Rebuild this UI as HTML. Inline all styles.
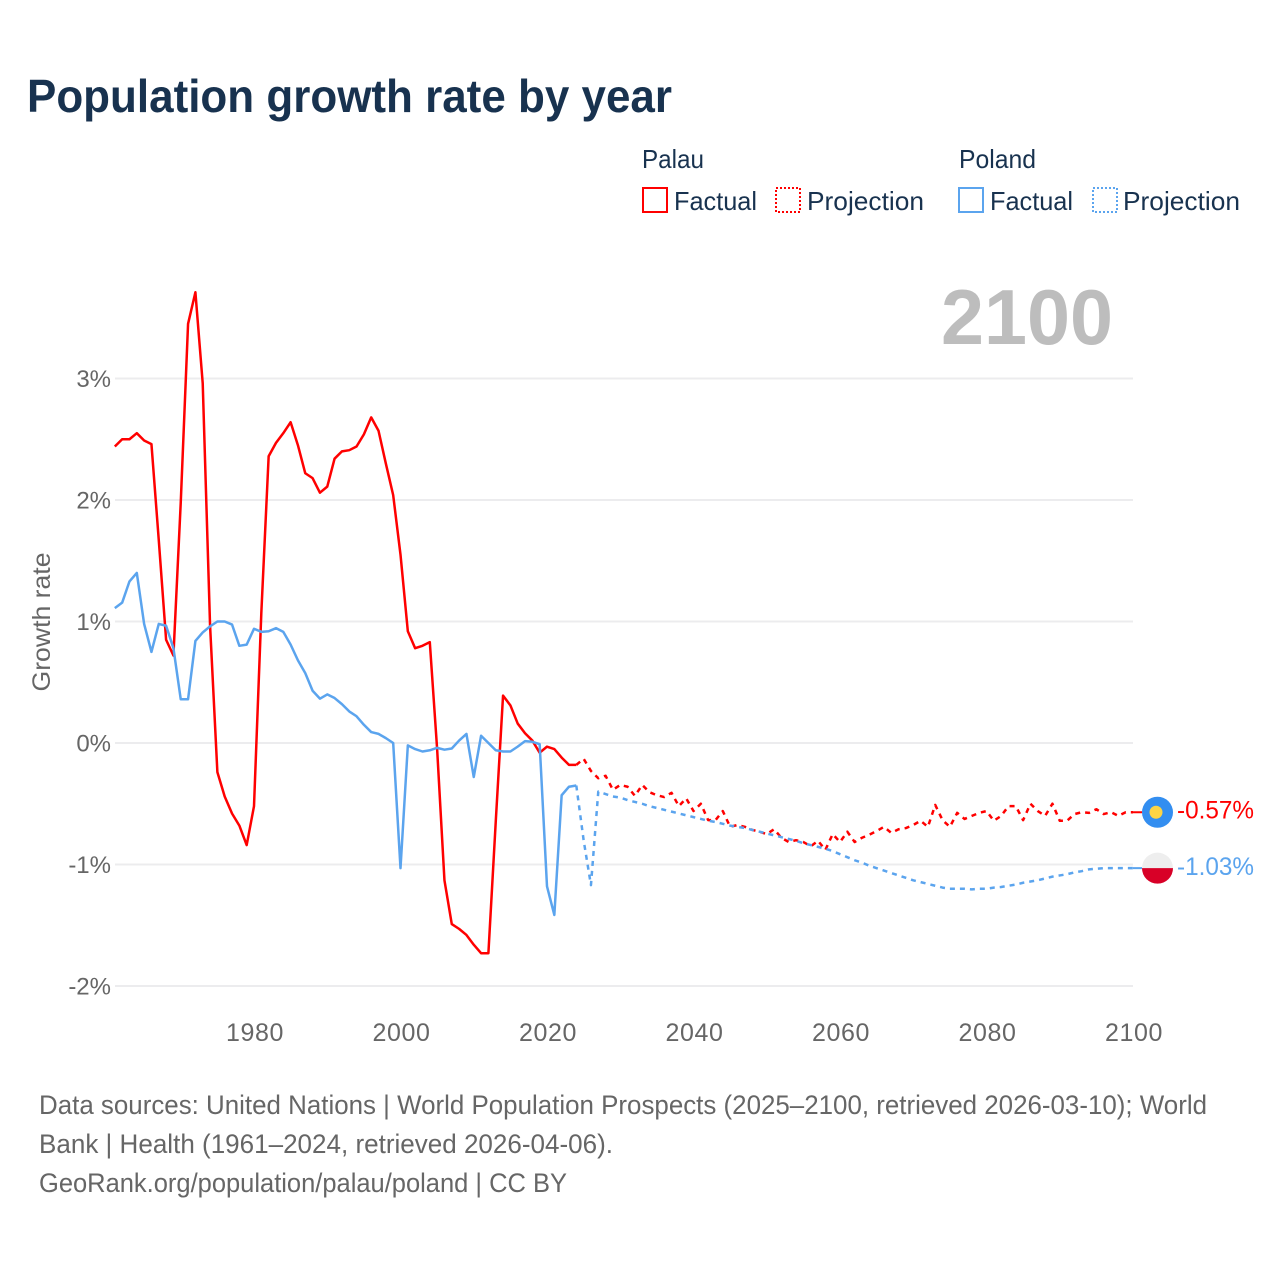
<!DOCTYPE html>
<html lang="en">
<head>
<meta charset="utf-8">
<title>Population growth rate by year</title>
<style>
html,body{margin:0;padding:0;background:#fff;width:1280px;height:1280px;overflow:hidden}
svg{display:block;font-family:"Liberation Sans",sans-serif}
</style>
</head>
<body>
<svg id="chart" xmlns="http://www.w3.org/2000/svg" width="1280" height="1280" viewBox="0 0 1280 1280">
  <text x="27" y="112" font-size="46" font-weight="700" fill="#18324f" textLength="645" lengthAdjust="spacingAndGlyphs">Population growth rate by year</text>

  <g font-size="26" fill="#18324f">
    <text x="642" y="168" textLength="62" lengthAdjust="spacingAndGlyphs">Palau</text>
    <text x="959" y="168" textLength="77" lengthAdjust="spacingAndGlyphs">Poland</text>
    <g>
      <rect x="643" y="188" width="24" height="24" fill="none" stroke="#ff0000" stroke-width="2"/>
      <text x="674" y="210" textLength="83" lengthAdjust="spacingAndGlyphs">Factual</text>
    </g>
    <g>
      <rect x="776" y="188" width="24" height="24" fill="none" stroke="#ff0000" stroke-width="2" stroke-dasharray="2 2"/>
      <text x="807" y="210" textLength="117" lengthAdjust="spacingAndGlyphs">Projection</text>
    </g>
    <g>
      <rect x="959" y="188" width="24" height="24" fill="none" stroke="#5ba4ee" stroke-width="2"/>
      <text x="990" y="210" textLength="83" lengthAdjust="spacingAndGlyphs">Factual</text>
    </g>
    <g>
      <rect x="1093" y="188" width="24" height="24" fill="none" stroke="#5ba4ee" stroke-width="2" stroke-dasharray="2 2"/>
      <text x="1123" y="210" textLength="117" lengthAdjust="spacingAndGlyphs">Projection</text>
    </g>
  </g>

  <text x="941" y="344" font-size="78" font-weight="700" fill="#bdbdbd" textLength="172" lengthAdjust="spacingAndGlyphs">2100</text>

  <g id="grid"></g>
  <g id="y-ticks" font-size="24" fill="#666" text-anchor="end"></g>
  <g id="x-ticks" font-size="25" fill="#666" text-anchor="middle" letter-spacing="0.6"></g>
  <text transform="translate(50 622) rotate(-90)" font-size="25" fill="#666" text-anchor="middle" textLength="139" lengthAdjust="spacingAndGlyphs">Growth rate</text>

  <g id="series"></g>
  <g id="markers"></g>

  <g font-size="27" fill="#666">
    <text x="39" y="1114" textLength="1168" lengthAdjust="spacingAndGlyphs">Data sources: United Nations | World Population Prospects (2025–2100, retrieved 2026-03-10); World</text>
    <text x="39" y="1153" textLength="574" lengthAdjust="spacingAndGlyphs">Bank | Health (1961–2024, retrieved 2026-04-06).</text>
    <text x="39" y="1192" textLength="528" lengthAdjust="spacingAndGlyphs">GeoRank.org/population/palau/poland | CC BY</text>
  </g>
</svg>
<script>
const factualStartYear = 1961;
const projectionStartYear = 2024;
const xTickYears = [1980, 2000, 2020, 2040, 2060, 2080, 2100];
const yTickValues = [3, 2, 1, 0, -1, -2];
const yTickLabels = ['3%', '2%', '1%', '0%', '-1%', '-2%'];

const palauFactual = [2.44,2.50,2.50,2.55,2.49,2.46,1.67,0.85,0.72,1.98,3.45,3.71,2.96,0.97,-0.24,-0.44,-0.58,-0.68,-0.84,-0.52,1.07,2.36,2.47,2.55,2.64,2.45,2.22,2.18,2.06,2.11,2.34,2.40,2.41,2.44,2.54,2.68,2.57,2.30,2.04,1.55,0.92,0.78,0.80,0.83,-0.05,-1.13,-1.49,-1.53,-1.58,-1.66,-1.73,-1.73,-0.65,0.39,0.31,0.16,0.08,0.02,-0.08,-0.03,-0.05,-0.12,-0.18,-0.18];
const palauProjection = [-0.18,-0.13,-0.23,-0.29,-0.27,-0.385,-0.345,-0.36,-0.435,-0.345,-0.405,-0.43,-0.445,-0.41,-0.52,-0.455,-0.56,-0.50,-0.635,-0.635,-0.56,-0.69,-0.675,-0.69,-0.715,-0.73,-0.75,-0.71,-0.78,-0.815,-0.80,-0.815,-0.85,-0.805,-0.88,-0.75,-0.815,-0.73,-0.815,-0.78,-0.755,-0.725,-0.69,-0.74,-0.71,-0.70,-0.675,-0.64,-0.69,-0.51,-0.635,-0.69,-0.575,-0.625,-0.60,-0.575,-0.56,-0.64,-0.60,-0.52,-0.52,-0.635,-0.50,-0.56,-0.60,-0.50,-0.64,-0.64,-0.585,-0.57,-0.575,-0.545,-0.585,-0.57,-0.60,-0.57,-0.57];
const polandFactual = [1.11,1.155,1.33,1.40,0.98,0.75,0.98,0.965,0.78,0.36,0.36,0.84,0.91,0.96,1.00,1.00,0.975,0.80,0.81,0.94,0.915,0.92,0.945,0.915,0.81,0.68,0.575,0.43,0.365,0.40,0.37,0.32,0.26,0.22,0.15,0.09,0.075,0.04,0.00,-1.03,-0.02,-0.05,-0.07,-0.06,-0.04,-0.055,-0.045,0.02,0.075,-0.28,0.06,0.00,-0.06,-0.07,-0.07,-0.03,0.015,0.01,-0.01,-1.18,-1.415,-0.43,-0.36,-0.35];
const polandProjection = [-0.35,-0.80,-1.17,-0.40,-0.42,-0.44,-0.45,-0.47,-0.485,-0.50,-0.52,-0.535,-0.55,-0.565,-0.58,-0.595,-0.61,-0.625,-0.64,-0.65,-0.665,-0.68,-0.69,-0.70,-0.715,-0.73,-0.745,-0.76,-0.775,-0.79,-0.805,-0.825,-0.84,-0.855,-0.87,-0.89,-0.915,-0.94,-0.965,-0.985,-1.01,-1.03,-1.05,-1.07,-1.09,-1.11,-1.13,-1.145,-1.16,-1.175,-1.19,-1.20,-1.20,-1.20,-1.205,-1.20,-1.20,-1.19,-1.185,-1.175,-1.165,-1.15,-1.14,-1.13,-1.115,-1.10,-1.09,-1.08,-1.065,-1.055,-1.04,-1.035,-1.03,-1.03,-1.03,-1.03,-1.03];

const SVG_NS = 'http://www.w3.org/2000/svg';
const RED = '#ff0000';
const BLUE = '#5ba4ee';
const xScale = year => 254 + (year - 1980) * 7.325;
const yScale = value => 743 - value * 121.5;
const make = (tag, parent) => {
  const node = document.createElementNS(SVG_NS, tag);
  parent.appendChild(node);
  return node;
};
const set = (node, props) => {
  Object.keys(props).forEach(k => node.setAttribute(k, props[k]));
  return node;
};
const gridGroup = document.getElementById('grid');
const yTickGroup = document.getElementById('y-ticks');
const xTickGroup = document.getElementById('x-ticks');
const seriesGroup = document.getElementById('series');
const markerGroup = document.getElementById('markers');

yTickValues.forEach((value, i) => {
  const line = make('line', gridGroup);
  
  
  set(line, {x1: 115, x2: xScale(2100), y1: yScale(value), y2: yScale(value), stroke: '#ececee', 'stroke-width': 2});
  const label = make('text', yTickGroup);
  
  
  set(label, {x: 111, y: yScale(value) + 8.5});
  label.textContent = yTickLabels[i];
});

xTickYears.forEach(year => {
  const label = make('text', xTickGroup);
  
  
  set(label, {x: xScale(year) + 1, y: 1041});
  label.textContent = String(year);
});

function drawLine(values, startYear, color, dashed, name) {
  const path = make('polyline', seriesGroup);
  
  
  const pts = values.map((v, i) => xScale(startYear + i).toFixed(2) + ',' + yScale(v).toFixed(2)).join(' ');
  set(path, {points: pts, fill: 'none', stroke: color, 'stroke-width': 2.5, 'stroke-linejoin': 'round'});
  if (dashed) path.setAttribute('stroke-dasharray', '5 5');
  return path;
}
drawLine(palauFactual, factualStartYear, RED, false, 'palau-factual-line');
drawLine(polandFactual, factualStartYear, BLUE, false, 'poland-factual-line');
drawLine(palauProjection, projectionStartYear, RED, true, 'palau-projection-line');
drawLine(polandProjection, projectionStartYear, BLUE, true, 'poland-projection-line');

const palauLast = palauProjection[palauProjection.length - 1];
const polandLast = polandProjection[polandProjection.length - 1];
const markerX = 1157.5;
const labelX = 1177;

const palauLink = make('line', markerGroup);


set(palauLink, {x1: xScale(2100), x2: markerX, y1: yScale(palauLast), y2: yScale(palauLast), stroke: RED, 'stroke-width': 2, 'stroke-dasharray': '9 4'});

const polandLink = make('line', markerGroup);


set(polandLink, {x1: xScale(2100), x2: markerX, y1: yScale(polandLast), y2: yScale(polandLast), stroke: BLUE, 'stroke-width': 2, 'stroke-dasharray': '9 4'});

const palauDisc = make('circle', markerGroup);


set(palauDisc, {cx: markerX, cy: yScale(palauLast), r: 15.5, fill: '#338ef0'});

const palauMoon = make('circle', markerGroup);


set(palauMoon, {cx: markerX - 1.5, cy: yScale(palauLast), r: 6.5, fill: '#fdd444'});

const polandDisc = make('circle', markerGroup);


set(polandDisc, {cx: markerX, cy: yScale(polandLast), r: 15.5, fill: '#eeeeee'});

const py = yScale(polandLast);
const polandHalf = make('path', markerGroup);


set(polandHalf, {d: 'M' + (markerX - 15.5) + ' ' + py + ' A15.5 15.5 0 0 0 ' + (markerX + 15.5) + ' ' + py + ' Z', fill: '#d80027'});

const palauLabel = make('text', markerGroup);


set(palauLabel, {x: labelX, y: yScale(palauLast) + 6, 'font-size': 25, fill: RED, textLength: 77, lengthAdjust: 'spacingAndGlyphs'});
palauLabel.textContent = palauLast.toFixed(2) + '%';

const polandLabel = make('text', markerGroup);


set(polandLabel, {x: labelX, y: yScale(polandLast) + 7, 'font-size': 25, fill: BLUE, textLength: 77, lengthAdjust: 'spacingAndGlyphs'});
polandLabel.textContent = polandLast.toFixed(2) + '%';
</script>
</body>
</html>
